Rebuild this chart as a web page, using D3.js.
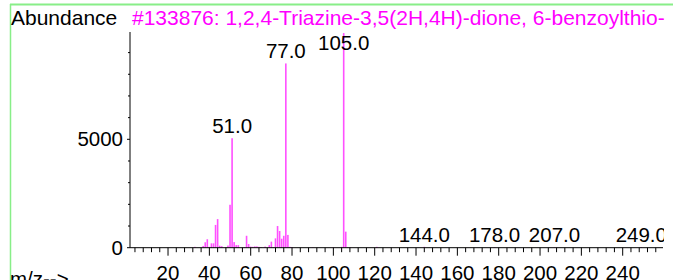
<!DOCTYPE html>
<html>
<head>
<meta charset="utf-8">
<script src="https://cdn.jsdelivr.net/npm/d3@7"></script>
<style>
    body { margin: 0; background: #fff; }
    svg { display: block; font-family: "Liberation Sans", Arial, sans-serif; }
    .peak-label { font-size: 20.5px; fill: #000; text-anchor: middle; }
    .tick-label { font-size: 20.5px; fill: #000; }
</style>
</head>
<body>
<div id="chart"></div>
<script>
// m/z values and abundances
const massValues = [33, 37, 38, 39, 40, 41, 42, 43, 44, 45, 46, 48, 49, 50, 51, 52, 53, 54, 56, 57,
    58, 59, 60, 61, 62, 63, 64, 65, 67, 69, 70, 71, 72, 73, 74, 75, 76, 77, 78, 79,
    80, 90, 100, 104, 105, 106, 107, 108, 121, 144, 178, 207, 249];
const abundanceValues = [40, 80, 250, 390, 40, 200, 200, 1050, 1320, 90, 70, 30, 100, 1980, 5050, 260, 120, 120, 20, 30,
    550, 170, 50, 40, 60, 60, 40, 30, 50, 120, 280, 30, 430, 1000, 770, 415, 550, 8500, 590, 40,
    30, 20, 20, 40, 9900, 740, 30, 20, 40, 40, 20, 20, 30];

// peaks that get a text label
const labelledPeaks = [51, 77, 105, 144, 178, 207, 249];

// axis ticks
const xMajorTicks = [20, 40, 60, 80, 100, 120, 140, 160, 180, 200, 220, 240];
const yLabelTicks = [0, 5000];

const titleLeft = "Abundance";
const titleRight = "#133876: 1,2,4-Triazine-3,5(2H,4H)-dione, 6-benzoylthio-";
const xAxisTitle = "m/z-->";

let width = 673,
    height = 280,
    plot = {left: 130, right: 663, top: 32, bottom: 247.7},

    xScale = d3.scaleLinear().domain([1.6, 259.5]).range([plot.left, plot.right]),
    yScale = d3.scaleLinear().domain([0, 9950]).range([plot.bottom, plot.top]);

let svg = d3.select('#chart')
    .append('svg')
    .attr('width', width)
    .attr('height', height);

// clip so labels stop at the right end of the axis
svg.append('clipPath')
    .attr('id', 'plot-clip')
    .append('rect')
    .attr('x', 0)
    .attr('y', 0)
    .attr('width', plot.right + 1)
    .attr('height', height);

// green frame
svg.append('line')
    .attr('x1', 10).attr('x2', width)
    .attr('y1', 4.5).attr('y2', 4.5)
    .attr('stroke', '#88ee88')
    .attr('stroke-width', 2);
svg.append('line')
    .attr('x1', 10.5).attr('x2', 10.5)
    .attr('y1', 4).attr('y2', height)
    .attr('stroke', '#88ee88')
    .attr('stroke-width', 1.5);

// titles
svg.append('text')
    .attr('x', 11)
    .attr('y', 25)
    .attr('font-size', 21)
    .text(titleLeft);

svg.append('text')
    .attr('x', 132)
    .attr('y', 25)
    .attr('font-size', 21)
    .attr('fill', '#ff00ff')
    .text(titleRight);

svg.append('text')
    .attr('x', 10)
    .attr('y', 286)
    .attr('font-size', 20.5)
    .text(xAxisTitle);

let spectrum = massValues.map((m, i) => ({mz: m, value: abundanceValues[i]}));

// spectrum lines
svg.append('g')
    .selectAll('rect')
    .data(spectrum)
    .join('rect')
    .attr('x', d => xScale(d.mz) - 0.8)
    .attr('width', 1.6)
    .attr('y', d => yScale(d.value))
    .attr('height', d => yScale(0) - yScale(d.value))
    .attr('fill', '#ff50ff');

// peak labels
svg.append('g')
    .attr('clip-path', 'url(#plot-clip)')
    .selectAll('text')
    .data(spectrum.filter(d => labelledPeaks.includes(d.mz)))
    .join('text')
    .classed('peak-label', true)
    .attr('x', d => xScale(d.mz))
    .attr('y', d => Math.max(yScale(d.value) - 5, 50))
    .text(d => d.mz.toFixed(1));

// x axis: minor ticks every 4, labels every 20
let xAxis = svg.append('g')
    .attr('transform', `translate(0,${plot.bottom})`);

xAxis.append('line')
    .attr('x1', plot.left).attr('x2', plot.right)
    .attr('stroke', '#000');

xAxis.selectAll('line.minor')
    .data(d3.range(4, 260, 4))
    .join('line')
    .classed('minor', true)
    .attr('x1', d => xScale(d)).attr('x2', d => xScale(d))
    .attr('y1', 0)
    .attr('y2', d => d % 20 === 0 ? 8 : 4.5)
    .attr('stroke', '#000');

xAxis.selectAll('text')
    .data(xMajorTicks)
    .join('text')
    .classed('tick-label', true)
    .attr('text-anchor', 'middle')
    .attr('x', d => xScale(d))
    .attr('y', 280 - plot.bottom)
    .text(d => d);

// y axis: ticks every 1000, labels at 0 and 5000
let yAxis = svg.append('g')
    .attr('transform', `translate(${plot.left},0)`);

yAxis.append('line')
    .attr('y1', plot.top).attr('y2', plot.bottom)
    .attr('stroke', '#000');

yAxis.selectAll('line.tick')
    .data(d3.range(0, 10000, 1000))
    .join('line')
    .classed('tick', true)
    .attr('x1', d => yLabelTicks.includes(d) ? -3 : -2).attr('x2', 0)
    .attr('y1', d => yScale(d)).attr('y2', d => yScale(d))
    .attr('stroke', '#000');

yAxis.selectAll('text')
    .data(yLabelTicks)
    .join('text')
    .classed('tick-label', true)
    .attr('text-anchor', 'end')
    .attr('x', -7)
    .attr('y', d => yScale(d) + 7)
    .text(d => d);
</script>
</body>
</html>
